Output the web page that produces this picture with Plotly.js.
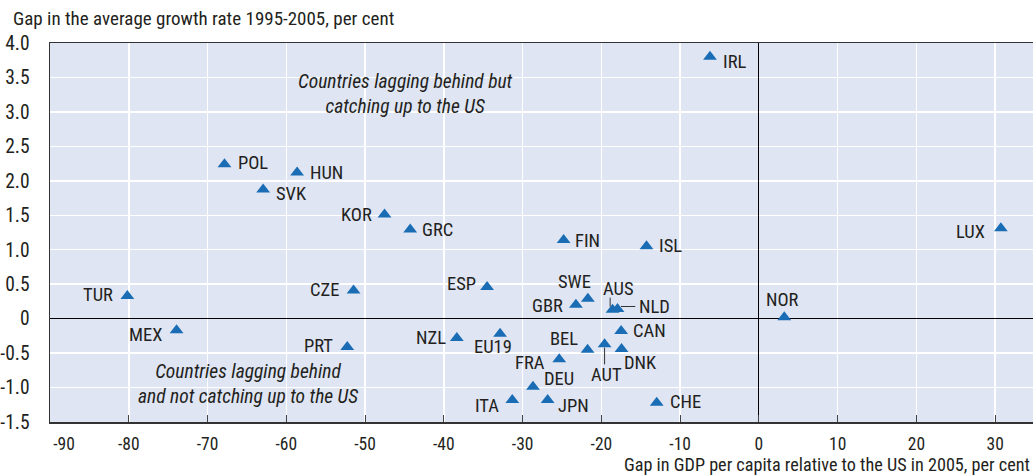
<!DOCTYPE html>
<html>
<head>
<meta charset="utf-8">
<script src="https://cdn.plot.ly/plotly-3.0.1.min.js"></script>
<style>html,body{margin:0;padding:0;background:#fff;}#chart{width:1033px;height:476px;}</style>
</head>
<body>
<div id="chart"></div>
<script>
// ---- data ----
const countries = ["IRL","POL","HUN","SVK","KOR","GRC","FIN","ISL","LUX","TUR","CZE","ESP","SWE","GBR","AUS","NLD","NOR","MEX","PRT","NZL","EU19","CAN","BEL","AUT","DNK","FRA","DEU","ITA","JPN","CHE"];
const gdpGap = [-6.21,-67.85,-58.63,-62.94,-47.53,-44.27,-24.79,-14.27,30.72,-80.18,-51.46,-34.51,-21.71,-23.23,-18.58,-17.95,3.22,-73.93,-52.26,-38.35,-32.86,-17.49,-21.75,-19.59,-17.44,-25.35,-28.68,-31.31,-26.82,-12.97];
const growthGap = [3.80,2.24,2.12,1.875,1.51,1.295,1.14,1.05,1.31,0.33,0.41,0.46,0.29,0.20,0.13,0.14,0.02,-0.17,-0.41,-0.28,-0.22,-0.18,-0.45,-0.37,-0.44,-0.59,-0.99,-1.18,-1.18,-1.22];
const yTickVals = [-1.5,-1,-0.5,0,0.5,1,1.5,2,2.5,3,3.5,4];
const yTickText = ["-1.5","-1.0","-0.5","0","0.5","1.0","1.5","2.0","2.5","3.0","3.5","4.0"];
const xTickVals = [-90,-80,-70,-60,-50,-40,-30,-20,-10,0,10,20,30];
const xTickText = ["\u00a0\u00a0\u00a0\u00a0\u00a0\u00a0\u00a0-90","-80","-70","-60","-50","-40","-30","-20","-10","0","10","20","30"];
const yTitle = "Gap in the average growth rate 1995-2005, per cent";
const xTitle = "Gap in GDP per capita relative to the US in 2005, per cent";
const quadrantNotes = [
  {text: "Countries lagging behind but<br>catching up to the US", x: -44.9, y: 3.265},
  {text: "Countries lagging behind<br>and not catching up to the US", x: -64.84, y: -0.946}
];

// ---- label placement (pixels) ----
const labelPos = {
  IRL:["left",12.4,-5.1], POL:["left",12.7,1.2], HUN:["left",11.6,-0.8], SVK:["left",11.6,-4.5],
  KOR:["right",-11.6,-0.2], GRC:["left",10.3,-0.2], FIN:["left",10.6,-1.2], ISL:["left",11,0.5],
  LUX:["right",-14.7,-3.5], TUR:["right",-13,0.8], CZE:["right",-13.3,0.1], ESP:["right",-10.3,2.5],
  SWE:["center",-13.7,16.5], GBR:["right",-11.7,-1.5], AUS:["center",5.6,20.5], NLD:["left",20.6,1.8],
  NOR:["center",-1.4,16.8], MEX:["right",-13.3,-4.2], PRT:["right",-13,0.5], NZL:["right",-9.7,-0.5],
  EU19:["center",-7.3,-13.1], CAN:["left",10.7,0.2], BEL:["right",-8.4,10.2], AUT:["center",2,-31.2],
  DNK:["left",1,-14.5], FRA:["right",-13.3,-3.8], DEU:["left",9.7,8.2], ITA:["right",-12.6,-5.8],
  JPN:["left",9.3,-5.8], CHE:["left",12.7,0.5]
};
// leader lines: [xshift, yshift, ax, ay, standoff]
const leaders = {
  AUS:[-2.4,0,0,-13,3],
  NLD:[0,2.5,18.3,0,3.5],
  AUT:[0,0,0,21.2,3.5]
};

const FONT = "'Liberation Sans Narrow','Arial Narrow','Roboto Condensed',sans-serif";
const TXT = "#231f20";

const annotations = [];
countries.forEach((c,i) => {
  const p = labelPos[c];
  annotations.push({
    x: gdpGap[i], y: growthGap[i], xref:"x", yref:"y", text:c, showarrow:false,
    xanchor:p[0], yanchor:"middle", xshift:p[1], yshift:p[2],
    font:{family:FONT, size:18.5, color:TXT}, borderpad:0
  });
  if (leaders[c]) {
    const l = leaders[c];
    annotations.push({
      x: gdpGap[i], y: growthGap[i], xref:"x", yref:"y", text:" ", showarrow:true,
      axref:"pixel", ayref:"pixel", ax:l[2], ay:l[3], xshift:l[0], yshift:l[1],
      arrowhead:0, arrowwidth:1, arrowcolor:"#333", standoff:l[4], startstandoff:0,
      font:{size:1}, borderpad:0
    });
  }
});
quadrantNotes.forEach(q => annotations.push({
  x:q.x, y:q.y, xref:"x", yref:"y", text:"<i>"+q.text+"</i>", showarrow:false,
  xanchor:"center", yanchor:"middle", font:{family:FONT, size:19.5, color:TXT}
}));
annotations.push({
  xref:"paper", yref:"paper", x:-0.04, y:1, xanchor:"left", yanchor:"bottom", yshift:11,
  text:yTitle, showarrow:false, font:{family:FONT, size:19, color:TXT}
});
annotations.push({
  xref:"paper", yref:"paper", x:1, y:0, xanchor:"right", yanchor:"bottom", yshift:-53.5, xshift:-2,
  text:xTitle, showarrow:false, font:{family:FONT, size:18.2, color:TXT}, borderpad:0
});

const trace = {
  type:"scatter", mode:"markers", x:gdpGap, y:growthGap, text:countries,
  marker:{symbol:"triangle-up", size:12, color:"#1a6cb5", line:{width:0}},
  hoverinfo:"text", cliponaxis:false
};

const layout = {
  width:1033, height:476,
  margin:{l:50, r:0, t:43.4, b:53.7, pad:0},
  paper_bgcolor:"#ffffff", plot_bgcolor:"#dfe5f3",
  showlegend:false,
  font:{family:FONT, size:16, color:TXT},
  xaxis:{
    range:[-90, 34.8], tickvals:xTickVals, ticktext:xTickText,
    showgrid:true, gridcolor:"#ffffff", gridwidth:1.5,
    zeroline:true, zerolinecolor:"#000", zerolinewidth:1,
    showline:true, linecolor:"#333", linewidth:1.5, mirror:true,
    ticks:"inside", ticklen:7, tickcolor:"#444", tickwidth:1,
    ticklabelstandoff:5, tickfont:{family:FONT, size:17.5, color:TXT}
  },
  yaxis:{
    range:[-1.5, 4], tickvals:yTickVals, ticktext:yTickText,
    showgrid:true, gridcolor:"#ffffff", gridwidth:1.5,
    zeroline:true, zerolinecolor:"#000", zerolinewidth:1,
    showline:true, linecolor:"#333", linewidth:1.5, mirror:true,
    ticks:"", ticklabelstandoff:15, tickfont:{family:FONT, size:19.5, color:TXT}
  },
  annotations:annotations
};

Plotly.newPlot("chart", [trace], layout, {staticPlot:true, displayModeBar:false});
</script>
</body>
</html>
